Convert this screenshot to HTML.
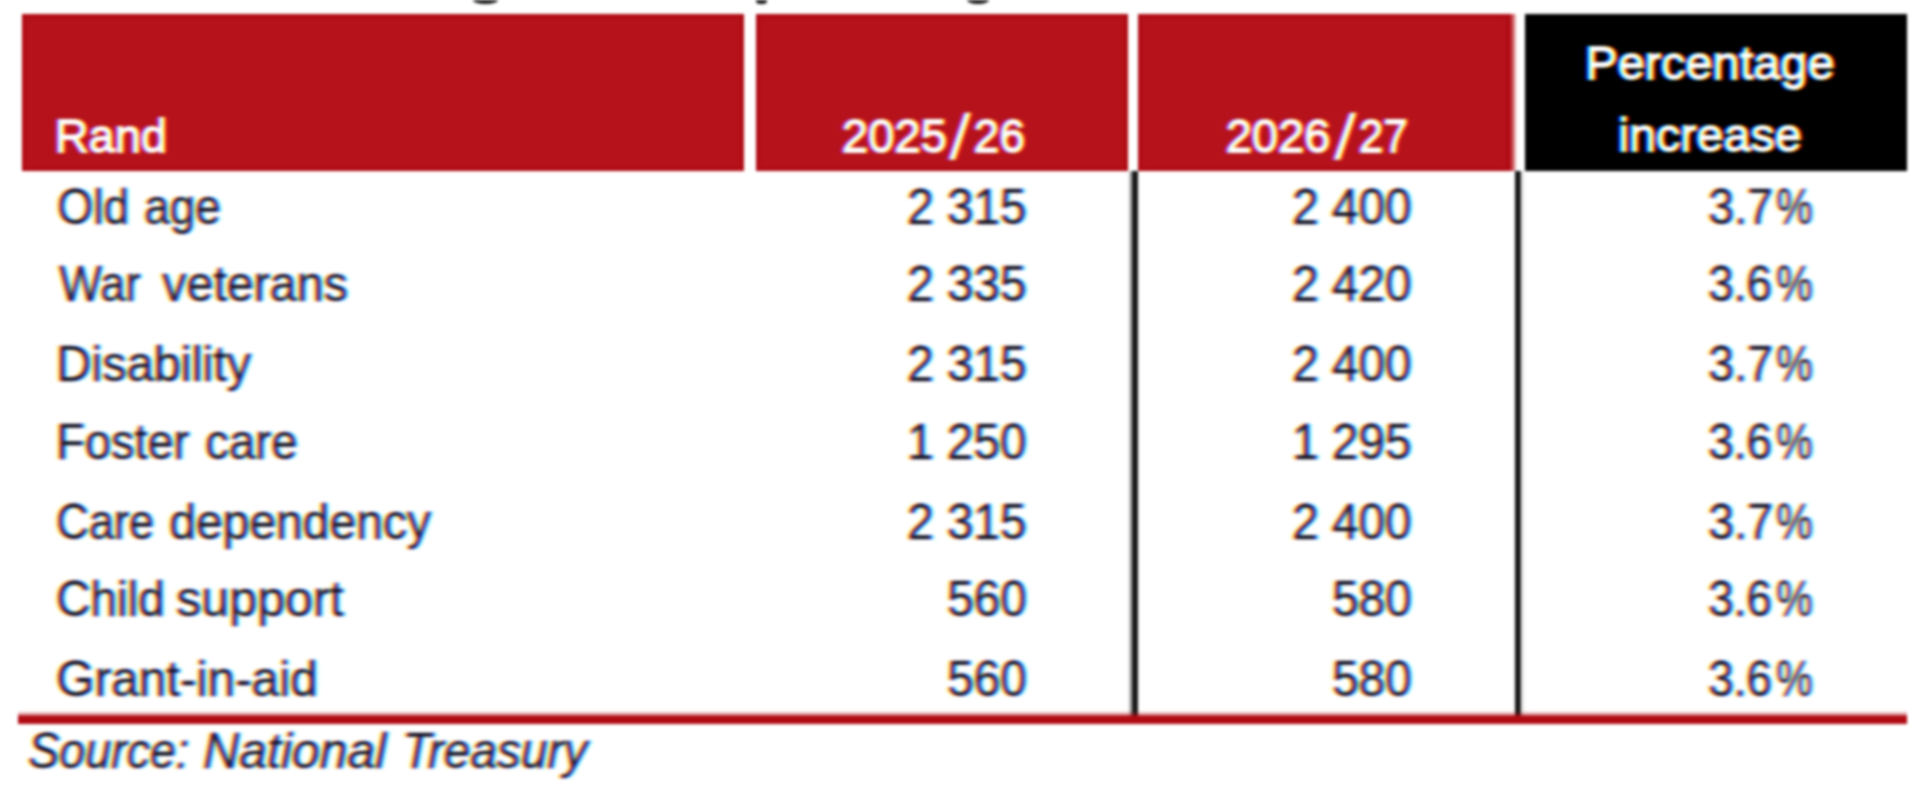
<!DOCTYPE html>
<html><head><meta charset="utf-8"><title>Social grants</title>
<style>
html,body{margin:0;padding:0;background:#fff;}
body{width:1920px;height:787px;overflow:hidden;position:relative;font-family:"Liberation Sans",sans-serif;}
#w{position:absolute;left:0;top:0;width:1920px;height:787px;overflow:hidden;filter:blur(1.5px);background:#fff;}
.r{position:absolute;}
.ly{position:absolute;left:0;top:0;width:1920px;height:787px;}
.t{position:absolute;white-space:nowrap;font-size:50.4px;line-height:60px;transform-origin:0 0;}
</style></head>
<body><svg width="0" height="0" style="position:absolute;left:0;top:0"><defs>
<filter id="fd" x="0" y="0" width="100%" height="100%" color-interpolation-filters="sRGB">
<feGaussianBlur in="SourceAlpha" stdDeviation="1.6 0.4" result="a0"/>
<feOffset in="a0" dx="-1.8" result="aL"/>
<feOffset in="a0" dx="1.8" result="aR"/>
<feColorMatrix in="aL" type="matrix" values="0 0 0 0 1  0 0 0 0 1  0 0 0 -0.85 1  0 0 0 0 1" result="cB"/>
<feColorMatrix in="a0" type="matrix" values="0 0 0 0 1  0 0 0 -0.92 1  0 0 0 0 1  0 0 0 0 1" result="cG"/>
<feColorMatrix in="aR" type="matrix" values="0 0 0 -0.92 1  0 0 0 0 1  0 0 0 0 1  0 0 0 0 1" result="cR"/>
<feBlend in="cB" in2="cG" mode="multiply" result="m1"/>
<feBlend in="m1" in2="cR" mode="multiply"/>
</filter>
<filter id="fw" x="0" y="0" width="100%" height="100%" color-interpolation-filters="sRGB">
<feGaussianBlur in="SourceAlpha" stdDeviation="1.3 0.5" result="a0"/>
<feOffset in="a0" dx="-1.8" result="aL"/>
<feOffset in="a0" dx="1.8" result="aR"/>
<feColorMatrix in="aL" type="matrix" values="0 0 0 0 0  0 0 0 0 0  0 0 0 1 0  0 0 0 0 1" result="cB"/>
<feColorMatrix in="a0" type="matrix" values="0 0 0 0 0  0 0 0 1 0  0 0 0 0 0  0 0 0 0 1" result="cG"/>
<feColorMatrix in="aR" type="matrix" values="0 0 0 1 0  0 0 0 0 0  0 0 0 0 0  0 0 0 0 1" result="cR"/>
<feBlend in="cB" in2="cG" mode="screen" result="m1"/>
<feBlend in="m1" in2="cR" mode="screen"/>
</filter>
</defs></svg><div id="w">

<div class="r" style="left:22px;top:13.5px;width:722px;height:157px;background:#b5121b;box-shadow:inset 0 0 2.5px 2.5px #ad0810;"></div>
<div class="r" style="left:755.5px;top:13.5px;width:372.5px;height:157px;background:#b5121b;box-shadow:inset 0 0 2.5px 2.5px #ad0810;"></div>
<div class="r" style="left:1138px;top:13.5px;width:372px;height:157px;background:#b5121b;box-shadow:inset 0 0 2.5px 2.5px #ad0810;"></div>
<div class="r" style="left:1509.5px;top:13.5px;width:7.5px;height:157px;background:linear-gradient(90deg,rgba(181,18,27,.97) 0,rgba(181,18,27,.7) 3px,rgba(181,18,27,.35) 5px,rgba(181,18,27,0) 100%)"></div>
<div class="r" style="left:1524.5px;top:13.5px;width:382px;height:157px;background:#000"></div>
<div class="r" style="left:1127.5px;top:170.5px;width:10.2px;height:546px;background:linear-gradient(90deg,rgba(22,22,22,0) 0,rgba(22,22,22,.5) 3.6px,#161616 5px,#161616 100%)"></div>
<div class="r" style="left:1515.2px;top:170.5px;width:11px;height:546px;background:linear-gradient(90deg,#161616 0,#161616 5.3px,rgba(22,22,22,.14) 6.3px,rgba(22,22,22,0) 100%)"></div>
<div class="r" style="left:18px;top:710.5px;width:1889px;height:13px;background:linear-gradient(180deg,rgba(176,10,18,0) 0,rgba(176,10,18,.45) 3.5px,#b00a12 5.5px,#b00a12 100%)"></div>
<div class="r" style="left:473px;top:-4px;width:25px;height:8px;border-radius:50%;background:#151515"></div>
<div class="r" style="left:756px;top:-4px;width:11px;height:8px;border-radius:40%;background:#151515"></div>
<div class="r" style="left:967px;top:-4px;width:22px;height:8px;border-radius:50%;background:#151515"></div>

<div class="ly" style="filter:url(#fw);mix-blend-mode:screen">
<span class="t" style="left:55.44px;top:106.00px;transform:scaleX(1.0190);font-size:46px;color:#fff;-webkit-text-stroke:2px #fff;">Rand</span>
<span class="t" style="left:841.97px;top:106.00px;transform:scaleX(1.0260);font-size:46px;color:#fff;-webkit-text-stroke:2px #fff;">2025</span>
<span class="t" style="left:973.80px;top:106.00px;transform:scaleX(1.0000);font-size:46px;color:#fff;-webkit-text-stroke:2px #fff;">26</span>
<span class="t" style="left:1226.38px;top:106.00px;transform:scaleX(1.0210);font-size:46px;color:#fff;-webkit-text-stroke:2px #fff;">2026</span>
<span class="t" style="left:1358.84px;top:106.00px;transform:scaleX(0.9551);font-size:46px;color:#fff;-webkit-text-stroke:2px #fff;">27</span>
<span class="t" style="left:948.50px;top:107.00px;transform:scaleX(1.2647);font-size:62.5px;color:#fff;-webkit-text-stroke:0.3px #fff;">/</span>
<span class="t" style="left:1333.50px;top:107.00px;transform:scaleX(1.2941);font-size:62.5px;color:#fff;-webkit-text-stroke:0.3px #fff;">/</span>
<span class="t" style="left:1584.72px;top:33.00px;transform:scaleX(1.0597);font-size:46px;color:#fff;-webkit-text-stroke:2px #fff;">Percentage</span>
<span class="t" style="left:1618.39px;top:105.00px;transform:scaleX(1.0556);font-size:46px;color:#fff;-webkit-text-stroke:2px #fff;">increase</span>
</div>
<div class="ly" style="filter:url(#fd);mix-blend-mode:multiply">
<span class="t" style="left:56.86px;top:177.00px;transform:scaleX(0.9178);color:#000;-webkit-text-stroke:0.5px #000;">Old</span>
<span class="t" style="left:144.13px;top:177.00px;transform:scaleX(0.9094);color:#000;-webkit-text-stroke:0.5px #000;">age</span>
<span class="t" style="left:58.70px;top:254.00px;transform:scaleX(0.8972);color:#000;-webkit-text-stroke:0.5px #000;">War</span>
<span class="t" style="left:162.20px;top:254.00px;transform:scaleX(0.9607);color:#000;-webkit-text-stroke:0.5px #000;">veterans</span>
<span class="t" style="left:55.83px;top:334.00px;transform:scaleX(0.9670);color:#000;-webkit-text-stroke:0.5px #000;">Disability</span>
<span class="t" style="left:55.98px;top:411.75px;transform:scaleX(0.9312);color:#000;-webkit-text-stroke:0.5px #000;">Foster</span>
<span class="t" style="left:205.32px;top:411.75px;transform:scaleX(0.9415);color:#000;-webkit-text-stroke:0.5px #000;">care</span>
<span class="t" style="left:56.01px;top:491.75px;transform:scaleX(0.8966);color:#000;-webkit-text-stroke:0.5px #000;">Care</span>
<span class="t" style="left:169.04px;top:491.75px;transform:scaleX(0.9531);color:#000;-webkit-text-stroke:0.5px #000;">dependency</span>
<span class="t" style="left:55.87px;top:569.00px;transform:scaleX(0.9444);color:#000;-webkit-text-stroke:0.5px #000;">Child</span>
<span class="t" style="left:176.46px;top:569.00px;transform:scaleX(0.9955);color:#000;-webkit-text-stroke:0.5px #000;">support</span>
<span class="t" style="left:55.75px;top:649.00px;transform:scaleX(0.9827);color:#000;-webkit-text-stroke:0.5px #000;">Grant-in-aid</span>
<span class="t" style="left:28.05px;top:721.00px;transform:scaleX(0.9247);font-style:italic;color:#000;-webkit-text-stroke:0.5px #000;">Source:</span>
<span class="t" style="left:202.92px;top:721.00px;transform:scaleX(0.9902);font-style:italic;color:#000;-webkit-text-stroke:0.5px #000;">National</span>
<span class="t" style="left:401.86px;top:721.00px;transform:scaleX(0.9490);font-style:italic;color:#000;-webkit-text-stroke:0.5px #000;">Treasury</span>
<span class="t" style="left:906.86px;top:177.00px;transform:scaleX(0.9463);color:#000;-webkit-text-stroke:0.5px #000;">2 315</span>
<span class="t" style="left:906.86px;top:254.00px;transform:scaleX(0.9463);color:#000;-webkit-text-stroke:0.5px #000;">2 335</span>
<span class="t" style="left:906.86px;top:334.00px;transform:scaleX(0.9463);color:#000;-webkit-text-stroke:0.5px #000;">2 315</span>
<span class="t" style="left:906.86px;top:411.75px;transform:scaleX(0.9463);color:#000;-webkit-text-stroke:0.5px #000;">1 250</span>
<span class="t" style="left:906.86px;top:491.75px;transform:scaleX(0.9463);color:#000;-webkit-text-stroke:0.5px #000;">2 315</span>
<span class="t" style="left:946.60px;top:569.00px;transform:scaleX(0.9463);color:#000;-webkit-text-stroke:0.5px #000;">560</span>
<span class="t" style="left:946.60px;top:649.00px;transform:scaleX(0.9463);color:#000;-webkit-text-stroke:0.5px #000;">560</span>
<span class="t" style="left:1291.86px;top:177.00px;transform:scaleX(0.9463);color:#000;-webkit-text-stroke:0.5px #000;">2 400</span>
<span class="t" style="left:1291.86px;top:254.00px;transform:scaleX(0.9463);color:#000;-webkit-text-stroke:0.5px #000;">2 420</span>
<span class="t" style="left:1291.86px;top:334.00px;transform:scaleX(0.9463);color:#000;-webkit-text-stroke:0.5px #000;">2 400</span>
<span class="t" style="left:1291.86px;top:411.75px;transform:scaleX(0.9463);color:#000;-webkit-text-stroke:0.5px #000;">1 295</span>
<span class="t" style="left:1291.86px;top:491.75px;transform:scaleX(0.9463);color:#000;-webkit-text-stroke:0.5px #000;">2 400</span>
<span class="t" style="left:1331.60px;top:569.00px;transform:scaleX(0.9463);color:#000;-webkit-text-stroke:0.5px #000;">580</span>
<span class="t" style="left:1331.60px;top:649.00px;transform:scaleX(0.9463);color:#000;-webkit-text-stroke:0.5px #000;">580</span>
<span class="t" style="left:1708.25px;top:177.00px;transform:scaleX(0.9246);color:#000;-webkit-text-stroke:0.5px #000;">3.7</span>
<span class="t" style="left:1775.97px;top:177.00px;transform:scaleX(0.8146);color:#000;-webkit-text-stroke:0.5px #000;">%</span>
<span class="t" style="left:1708.28px;top:254.00px;transform:scaleX(0.9106);color:#000;-webkit-text-stroke:0.5px #000;">3.6</span>
<span class="t" style="left:1775.97px;top:254.00px;transform:scaleX(0.8146);color:#000;-webkit-text-stroke:0.5px #000;">%</span>
<span class="t" style="left:1708.25px;top:334.00px;transform:scaleX(0.9246);color:#000;-webkit-text-stroke:0.5px #000;">3.7</span>
<span class="t" style="left:1775.97px;top:334.00px;transform:scaleX(0.8146);color:#000;-webkit-text-stroke:0.5px #000;">%</span>
<span class="t" style="left:1708.28px;top:411.75px;transform:scaleX(0.9106);color:#000;-webkit-text-stroke:0.5px #000;">3.6</span>
<span class="t" style="left:1775.97px;top:411.75px;transform:scaleX(0.8146);color:#000;-webkit-text-stroke:0.5px #000;">%</span>
<span class="t" style="left:1708.25px;top:491.75px;transform:scaleX(0.9246);color:#000;-webkit-text-stroke:0.5px #000;">3.7</span>
<span class="t" style="left:1775.97px;top:491.75px;transform:scaleX(0.8146);color:#000;-webkit-text-stroke:0.5px #000;">%</span>
<span class="t" style="left:1708.28px;top:569.00px;transform:scaleX(0.9106);color:#000;-webkit-text-stroke:0.5px #000;">3.6</span>
<span class="t" style="left:1775.97px;top:569.00px;transform:scaleX(0.8146);color:#000;-webkit-text-stroke:0.5px #000;">%</span>
<span class="t" style="left:1708.28px;top:649.00px;transform:scaleX(0.9106);color:#000;-webkit-text-stroke:0.5px #000;">3.6</span>
<span class="t" style="left:1775.97px;top:649.00px;transform:scaleX(0.8146);color:#000;-webkit-text-stroke:0.5px #000;">%</span>
</div>
</div></body></html>
